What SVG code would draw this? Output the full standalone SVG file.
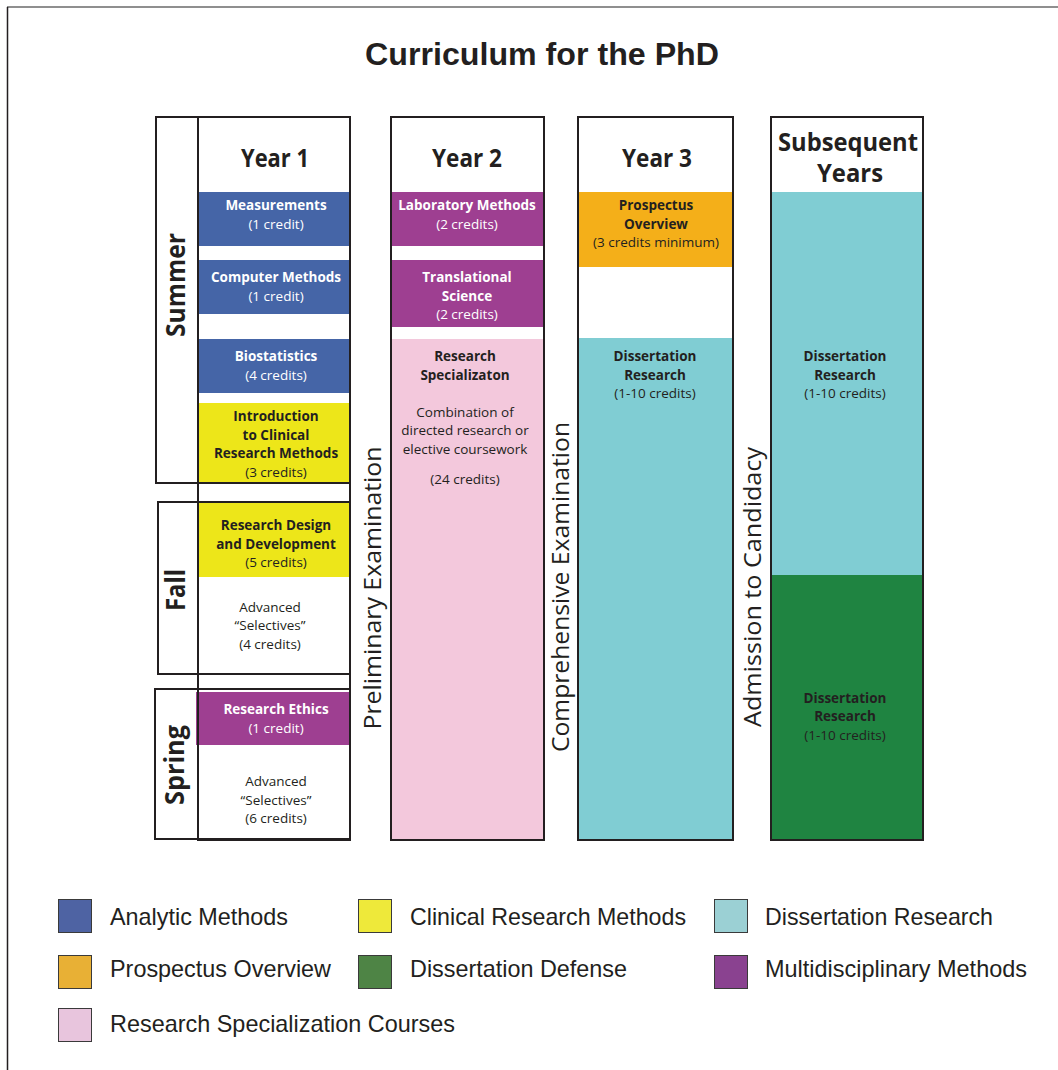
<svg xmlns="http://www.w3.org/2000/svg" width="1058" height="1070" viewBox="0 0 1058 1070">
<style>
.hd{font-family:"Open Sans","Noto Sans",sans-serif;font-weight:700;fill:#231f20;text-anchor:middle}
.sea{font-family:"Open Sans","Noto Sans",sans-serif;font-weight:700;font-size:26px;fill:#231f20;text-anchor:middle}
.ex{font-family:"Open Sans","Noto Sans",sans-serif;font-weight:400;font-size:24px;fill:#231f20;text-anchor:middle}
.b{font-family:"Open Sans","Noto Sans",sans-serif;font-weight:700;font-size:13.5px;text-anchor:middle}
.r{font-family:"Open Sans","Noto Sans",sans-serif;font-weight:400;font-size:13.5px;text-anchor:middle}
.w{fill:#ffffff}
.k{fill:#231f20}
.out{fill:none;stroke:#231f20;stroke-width:2}
.lg{font-family:"Liberation Sans",Arial,sans-serif;font-size:24px;fill:#231f20}
.sq{stroke:#3a3a3a;stroke-width:1}
</style>
<rect x="0" y="0" width="1058" height="1070" fill="#ffffff"/>
<line x1="7" y1="7" x2="1058" y2="7" stroke="#8f8f8f" stroke-width="2"/>
<line x1="7.5" y1="7" x2="7.5" y2="1070" stroke="#231f20" stroke-width="1.5"/>
<text x="542" y="65" font-family="Liberation Sans, Arial, sans-serif" font-weight="700" font-size="31" fill="#231f20" text-anchor="middle" textLength="354" lengthAdjust="spacingAndGlyphs">Curriculum for the PhD</text>

<g id="year1">
  <rect x="198" y="192" width="152" height="54" fill="#4565a7"/>
  <rect x="198" y="260" width="152" height="54" fill="#4565a7"/>
  <rect x="198" y="339" width="152" height="54" fill="#4565a7"/>
  <rect x="198" y="403" width="152" height="80" fill="#ede619"/>
  <rect x="198" y="502" width="152" height="75" fill="#ede619"/>
  <rect x="196" y="692" width="154" height="53" fill="#9e3f91"/>
  <rect class="out" x="156" y="117" width="194" height="366"/>
  <rect class="out" x="158" y="502" width="192" height="172"/>
  <rect class="out" x="155" y="689" width="195" height="150"/>
  <rect class="out" x="198" y="117" width="152" height="723"/>
  <text class="hd" x="275" y="167" font-size="25" textLength="68" lengthAdjust="spacingAndGlyphs">Year 1</text>
  <text class="b w" x="276" y="210">Measurements</text>
  <text class="r w" x="276" y="229">(1 credit)</text>
  <text class="b w" x="276" y="282">Computer Methods</text>
  <text class="r w" x="276" y="301">(1 credit)</text>
  <text class="b w" x="276" y="361">Biostatistics</text>
  <text class="r w" x="276" y="380">(4 credits)</text>
  <text class="b k" x="276" y="421">Introduction</text>
  <text class="b k" x="276" y="440">to Clinical</text>
  <text class="b k" x="276" y="458">Research Methods</text>
  <text class="r k" x="276" y="477">(3 credits)</text>
  <text class="b k" x="276" y="530">Research Design</text>
  <text class="b k" x="276" y="549">and Development</text>
  <text class="r k" x="276" y="567">(5 credits)</text>
  <text class="r k" x="270" y="612">Advanced</text>
  <text class="r k" x="270" y="630">“Selectives”</text>
  <text class="r k" x="270" y="649">(4 credits)</text>
  <text class="b w" x="276" y="714">Research Ethics</text>
  <text class="r w" x="276" y="733">(1 credit)</text>
  <text class="r k" x="276" y="786">Advanced</text>
  <text class="r k" x="276" y="805">“Selectives”</text>
  <text class="r k" x="276" y="823">(6 credits)</text>
</g>

<g id="seasons">
  <text class="sea" transform="translate(185,285) rotate(-90)" textLength="104" lengthAdjust="spacingAndGlyphs">Summer</text>
  <text class="sea" transform="translate(185,590) rotate(-90)" textLength="42" lengthAdjust="spacingAndGlyphs">Fall</text>
  <text class="sea" transform="translate(184,765) rotate(-90)" textLength="80" lengthAdjust="spacingAndGlyphs">Spring</text>
</g>

<g id="year2">
  <rect x="391" y="192" width="153" height="54" fill="#9e3f91"/>
  <rect x="391" y="260" width="153" height="67" fill="#9e3f91"/>
  <rect x="391" y="339" width="153" height="501" fill="#f3c8dc"/>
  <rect class="out" x="391" y="117" width="153" height="723"/>
  <text class="hd" x="467" y="167" font-size="25" textLength="70" lengthAdjust="spacingAndGlyphs">Year 2</text>
  <text class="b w" x="467" y="210">Laboratory Methods</text>
  <text class="r w" x="467" y="229">(2 credits)</text>
  <text class="b w" x="467" y="282">Translational</text>
  <text class="b w" x="467" y="301">Science</text>
  <text class="r w" x="467" y="319">(2 credits)</text>
  <text class="b k" x="465" y="361">Research</text>
  <text class="b k" x="465" y="380">Specializaton</text>
  <text class="r k" x="465" y="417">Combination of</text>
  <text class="r k" x="465" y="435">directed research or</text>
  <text class="r k" x="465" y="454">elective coursework</text>
  <text class="r k" x="465" y="484">(24 credits)</text>
</g>

<g id="year3">
  <rect x="578" y="192" width="155" height="75" fill="#f4af19"/>
  <rect x="578" y="338" width="155" height="502" fill="#80cdd3"/>
  <rect class="out" x="578" y="117" width="155" height="723"/>
  <text class="hd" x="657" y="167" font-size="25" textLength="70" lengthAdjust="spacingAndGlyphs">Year 3</text>
  <text class="b k" x="656" y="210">Prospectus</text>
  <text class="b k" x="656" y="229">Overview</text>
  <text class="r k" x="656" y="247">(3 credits minimum)</text>
  <text class="b k" x="655" y="361">Dissertation</text>
  <text class="b k" x="655" y="380">Research</text>
  <text class="r k" x="655" y="398">(1-10 credits)</text>
</g>

<g id="subsequent">
  <rect x="771" y="192" width="152" height="383" fill="#80cdd3"/>
  <rect x="771" y="575" width="152" height="265" fill="#1f8441"/>
  <rect class="out" x="771" y="117" width="152" height="723"/>
  <text class="hd" x="848" y="151" font-size="25" textLength="140" lengthAdjust="spacingAndGlyphs">Subsequent</text>
  <text class="hd" x="850" y="182" font-size="25" textLength="66" lengthAdjust="spacingAndGlyphs">Years</text>
  <text class="b k" x="845" y="361">Dissertation</text>
  <text class="b k" x="845" y="380">Research</text>
  <text class="r k" x="845" y="398">(1-10 credits)</text>
  <text class="b k" x="845" y="703">Dissertation</text>
  <text class="b k" x="845" y="721">Research</text>
  <text class="r k" x="845" y="740">(1-10 credits)</text>
</g>

<g id="milestones">
  <text class="ex" transform="translate(381,588) rotate(-90)" textLength="283" lengthAdjust="spacingAndGlyphs">Preliminary Examination</text>
  <text class="ex" transform="translate(569,587) rotate(-90)" textLength="330" lengthAdjust="spacingAndGlyphs">Comprehensive Examination</text>
  <text class="ex" transform="translate(761,587) rotate(-90)" textLength="280" lengthAdjust="spacingAndGlyphs">Admission to Candidacy</text>
</g>

<g id="connectors"></g>

<g id="legend">
  <rect class="sq" x="58.5" y="899.5" width="33" height="33" fill="#4e63a3"/>
  <text class="lg" x="110" y="925" textLength="178" lengthAdjust="spacingAndGlyphs">Analytic Methods</text>
  <rect class="sq" x="358.5" y="899.5" width="33" height="33" fill="#eee93a"/>
  <text class="lg" x="410" y="925" textLength="276" lengthAdjust="spacingAndGlyphs">Clinical Research Methods</text>
  <rect class="sq" x="714.5" y="899.5" width="33" height="33" fill="#9bd0d4"/>
  <text class="lg" x="765" y="925" textLength="228" lengthAdjust="spacingAndGlyphs">Dissertation Research</text>
  <rect class="sq" x="58.5" y="955.5" width="33" height="33" fill="#e8b035"/>
  <text class="lg" x="110" y="977" textLength="221" lengthAdjust="spacingAndGlyphs">Prospectus Overview</text>
  <rect class="sq" x="358.5" y="955.5" width="33" height="33" fill="#4e8445"/>
  <text class="lg" x="410" y="977" textLength="217" lengthAdjust="spacingAndGlyphs">Dissertation Defense</text>
  <rect class="sq" x="714.5" y="955.5" width="33" height="33" fill="#8a4290"/>
  <text class="lg" x="765" y="977" textLength="262" lengthAdjust="spacingAndGlyphs">Multidisciplinary Methods</text>
  <rect class="sq" x="58.5" y="1008.5" width="33" height="33" fill="#e8c5dd"/>
  <text class="lg" x="110" y="1032" textLength="345" lengthAdjust="spacingAndGlyphs">Research Specialization Courses</text>
</g>
</svg>
